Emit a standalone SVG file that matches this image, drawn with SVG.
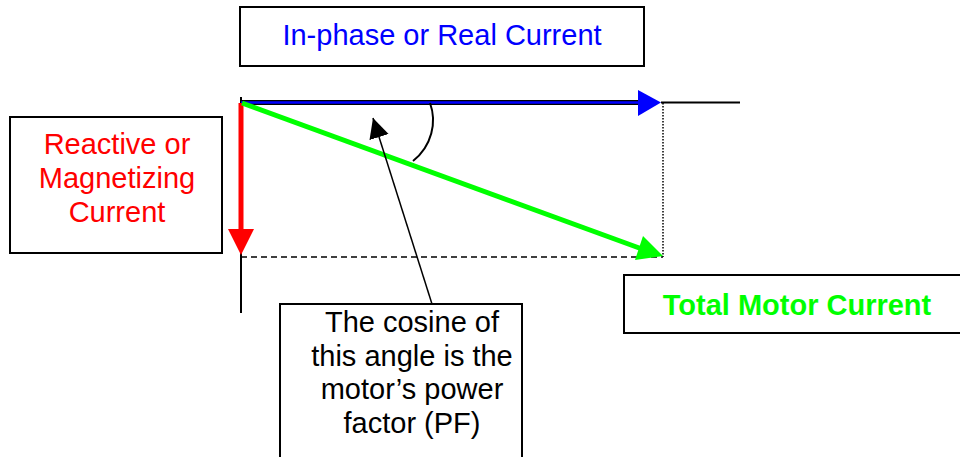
<svg xmlns="http://www.w3.org/2000/svg" width="960" height="457" viewBox="0 0 960 457">
<style>
.box{fill:#fff;stroke:#000;stroke-width:2}
.t{font-family:"Liberation Sans",Arial,sans-serif;font-size:29px;text-anchor:middle}
</style>
<defs>
<marker id="ah" markerUnits="userSpaceOnUse" markerWidth="22" markerHeight="22" refX="20" refY="10" orient="auto">
<path d="M0,0 L20,10 L0,20 Z" fill="#000"/>
</marker>
</defs>
<rect width="960" height="457" fill="#fff"/>
<g id="axes">
<line x1="241" y1="97" x2="241" y2="313" stroke="#000" stroke-width="2"/>
<line x1="663" y1="103" x2="663" y2="257" stroke="#000" stroke-width="1.5" stroke-dasharray="1.5,1.5"/>
<line x1="241" y1="257" x2="663" y2="257" stroke="#000" stroke-width="1.5" stroke-dasharray="6,4"/>
</g>
<g id="connectors">
<line x1="241" y1="102.5" x2="645" y2="102.5" stroke="#000" stroke-width="5"/>
<line x1="241" y1="102.5" x2="645" y2="102.5" stroke="#0000ff" stroke-width="2.5"/>
<polygon points="638,90 661,102.5 638,116" fill="#0000ff"/>
<line x1="661" y1="102.5" x2="740" y2="102.5" stroke="#000" stroke-width="2"/>
<line x1="241" y1="103" x2="241" y2="232" stroke="#ff0000" stroke-width="5"/>
<polygon points="228,229 254,229 241,255" fill="#ff0000"/>
<line x1="242" y1="103" x2="642" y2="249" stroke="#00ff00" stroke-width="5"/>
<polygon points="635,260 643,236 663,256" fill="#00ff00"/>
<path d="M430,103 C437,122 432,146 413,161" fill="none" stroke="#000" stroke-width="2"/>
<line x1="432" y1="304" x2="373" y2="118" stroke="#000" stroke-width="1.5" marker-end="url(#ah)"/>
</g>
<g id="real">
<rect class="box" x="240" y="7" width="404" height="59"/>
<text class="t" x="442" y="45" fill="#0000ff">In-phase or Real Current</text>
</g>
<g id="reactive">
<rect class="box" x="10" y="117" width="212" height="136"/>
<text class="t" fill="#ff0000"><tspan x="117" y="154">Reactive or</tspan><tspan x="117" y="188">Magnetizing</tspan><tspan x="117" y="222">Current</tspan></text>
</g>
<g id="total">
<rect class="box" x="624" y="275" width="345" height="58"/>
<text class="t" x="797" y="315" fill="#00ff00" font-weight="bold">Total Motor Current</text>
</g>
<g id="pf">
<rect class="box" x="280" y="304" width="242" height="170"/>
<text class="t" fill="#000"><tspan x="412" y="332">The cosine of</tspan><tspan x="412" y="365.5">this angle is the</tspan><tspan x="412" y="399">motor’s power</tspan><tspan x="412" y="432.5">factor (PF)</tspan></text>
</g>
</svg>
